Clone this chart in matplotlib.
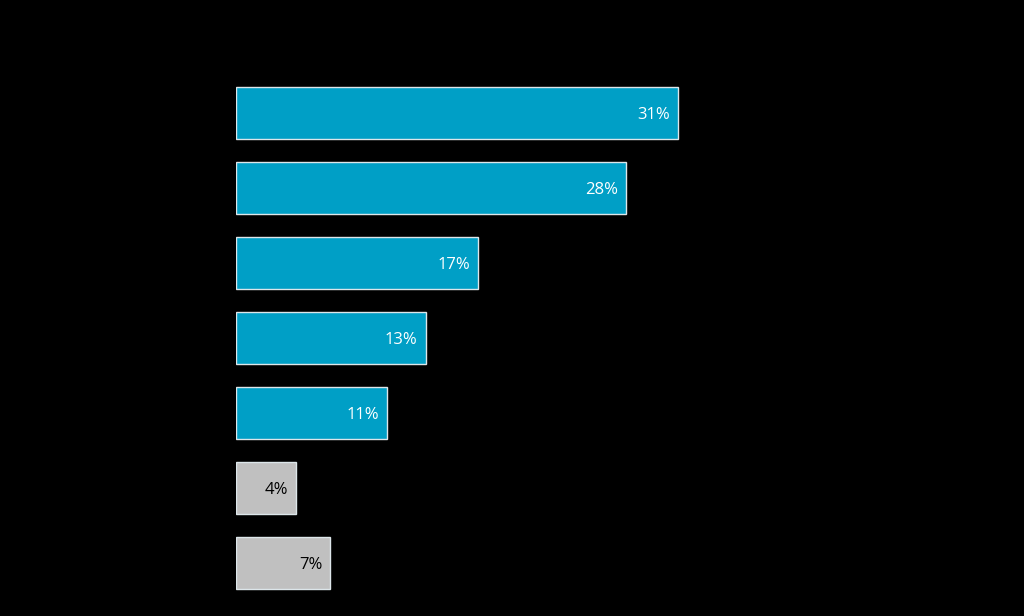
import numpy as np
import matplotlib
matplotlib.use('Agg')
import matplotlib.pyplot as plt

# values, labels as printed on the bars
values = [31, 27.4, 17, 13.3, 10.6, 4.2, 6.6]
labels = ['31%', '28%', '17%', '13%', '11%', '4%', '7%']
colors = ['#009fc6'] * 5 + ['#c0c0c0'] * 2
text_colors = ['white'] * 5 + ['black'] * 2

plt.rcParams['font.family'] = ['Open Sans', 'DejaVu Sans']

fig = plt.figure(figsize=(10.24, 6.16), dpi=100, facecolor='black')
# x axis: 0 at 236 px, 14.25 px per percent
ax = fig.add_axes([236 / 1024, 15.5 / 616, 712.5 / 1024, 525 / 616])
ax.set_facecolor('black')

y = np.arange(len(values))
ax.barh(y, values, height=0.69, color=colors, edgecolor='#dde6ea', linewidth=1)

for yi, v, lab, tc in zip(y, values, labels, text_colors):
    ax.text(v - 0.55, yi + 0.03, lab, ha='right', va='center', color=tc, fontsize=12)

ax.set_xlim(0, 50)
ax.set_ylim(len(values) - 0.5, -0.5)
ax.axis('off')

fig.savefig('out.png', dpi=100, facecolor='black')
